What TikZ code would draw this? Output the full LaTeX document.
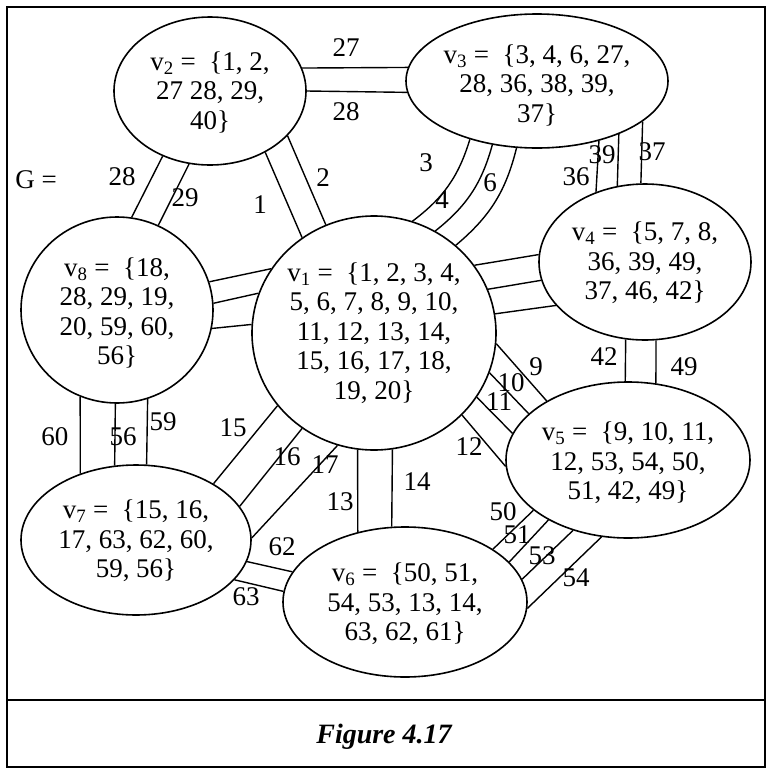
\documentclass[tikz,border=0pt]{standalone}
\usepackage{fontspec}
\setmainfont{Liberation Serif}
\usetikzlibrary{shapes.geometric}
\begin{document}
\begin{tikzpicture}[x=1pt,y=1pt,
  vert/.style={draw,ellipse,line width=1.6pt,inner sep=0pt},
  vtext/.style={font=\fontsize{27}{29.5}\selectfont,align=center,inner sep=0pt},
  elab/.style={font=\fontsize{27}{29.5}\selectfont,inner sep=0pt},
  edge/.style={line width=1.4pt},
  frameline/.style={line width=2.2pt}]
\useasboundingbox (0,0) rectangle (768,-769);
\draw[frameline] (7,-7) rectangle (765,-767);
\draw[frameline] (7,-700) -- (765,-700);
% vertices
\node[vert,minimum width=244pt,minimum height=234pt] (v1) at (374,-333) {};
\node[vert,minimum width=192pt,minimum height=148pt] (v2) at (210,-91) {};
\node[vert,minimum width=262pt,minimum height=134pt] (v3) at (537,-81) {};
\node[vert,minimum width=212pt,minimum height=156pt] (v4) at (645,-262) {};
\node[vert,minimum width=244pt,minimum height=156pt] (v5) at (628,-460) {};
\node[vert,minimum width=244pt,minimum height=150pt] (v6) at (405,-602) {};
\node[vert,minimum width=230pt,minimum height=150pt] (v7) at (136,-540) {};
\node[vert,minimum width=192pt,minimum height=186pt] (v8) at (117,-310) {};
% vertex texts
\node[vtext] (t1) at (374,-333) {v\textsubscript{1} = \ \{1, 2, 3, 4,\\5, 6, 7, 8, 9, 10,\\11, 12, 13, 14,\\15, 16, 17, 18,\\19, 20\}};
\node[vtext] (t2) at (210,-92) {v\textsubscript{2} = \ \{1, 2,\\27 28, 29,\\40\}};
\node[vtext] (t3) at (537,-85) {v\textsubscript{3} = \ \{3, 4, 6, 27,\\28, 36, 38, 39,\\37\}};
\node[vtext] (t4) at (645,-263) {v\textsubscript{4} = \ \{5, 7, 8,\\36, 39, 49,\\37, 46, 42\}};
\node[vtext] (t5) at (628,-463) {v\textsubscript{5} = \ \{9, 10, 11,\\12, 53, 54, 50,\\51, 42, 49\}};
\node[vtext] (t6) at (405,-604) {v\textsubscript{6} = \ \{50, 51,\\54, 53, 13, 14,\\63, 62, 61\}};
\node[vtext] (t7) at (136,-541) {v\textsubscript{7} = \ \{15, 16,\\17, 63, 62, 60,\\59, 56\}};
\node[vtext] (t8) at (117,-313) {v\textsubscript{8} = \ \{18,\\28, 29, 19,\\20, 59, 60,\\56\}};
% edges v2-v3
\draw[edge] (v2.14.2) -- (v3.174.2);
\draw[edge] (v2.0) -- (v3.-175.6);
% v2-v8
\draw[edge] (v2.-126.0) -- (v8.81.3);
\draw[edge] (v2.-106.3) -- (v8.64.0);
% v2-v1
\draw[edge] (v2.-48.3) -- (v1.127.7);
\draw[edge] (v2.-30.5) -- (v1.114.8);
% v3-v1 curved
\draw[edge] (v3.-139.9) to[bend left=18] (v1.71.1);
\draw[edge] (v3.-125.1) to[bend left=18] (v1.59.3);
\draw[edge] (v3.-107.4) to[bend left=18] (v1.47.7);
% v3-v4
\draw[edge] (v3.-44.5) -- (v4.125.4);
\draw[edge] (v3.-33.6) -- (v4.110.4);
\draw[edge] (v3.-21.9) -- (v4.93.7);
% v4-v1
\draw[edge] (v1.34.6) -- (v4.176.2);
\draw[edge] (v1.21.7) -- (v4.-170.2);
\draw[edge] (v1.9.0) -- (v4.-154.5);
% v8-v1
\draw[edge] (v8.17.9) -- (v1.148.7);
\draw[edge] (v8.4.2) -- (v1.161.6);
\draw[edge] (v8.-11.9) -- (v1.176.2);
% v8-v7
\draw[edge] (v8.-113.3) -- (v7.130.5);
\draw[edge] (v8.-91.8) -- (v7.106.6);
\draw[edge] (v8.-71.9) -- (v7.82.4);
% v1-v7
\draw[edge] (v1.-143.4) -- (v7.36.5);
\draw[edge] (v1.-127.2) -- (v7.18.6);
\draw[edge] (v1.-108.3) -- (v7.1.0);
% v1-v6
\draw[edge] (v1.-98.3) -- (v6.124.9);
\draw[edge] (v1.-81.7) -- (v6.100.6);
% v7-v6
\draw[edge] (v7.-11.6) -- (v6.165.6);
\draw[edge] (v7.-22.9) -- (v6.175.3);
% v1-v5
\draw[edge] (v1.-5.6) -- (v5.144.4);
\draw[edge] (v1.-19.0) -- (v5.155.8);
\draw[edge] (v1.-32.1) -- (v5.167.8);
\draw[edge] (v1.-43.3) -- (v5.-177.7);
% v4-v5
\draw[edge] (v4.-104.6) -- (v5.92.2);
\draw[edge] (v4.-82.7) -- (v5.70.5);
% v5-v6
\draw[edge] (v5.-152.7) -- (v6.31.4);
\draw[edge] (v5.-143.0) -- (v6.21.7);
\draw[edge] (v5.-128.8) -- (v6.11.1);
\draw[edge] (v5.-109.7) -- (v6.-3.8);
% labels
\node[elab] (g) at (36,-180) {G =};
\node[elab] (l27) at (346,-48) {27};
\node[elab] (l28a) at (346,-112) {28};
\node[elab] (l28b) at (122,-177) {28};
\node[elab] (l29) at (185,-198) {29};
\node[elab] (l1) at (260,-205) {1};
\node[elab] (l2) at (323,-178) {2};
\node[elab] (l3) at (426,-163) {3};
\node[elab] (l4) at (442,-200) {4};
\node[elab] (l6) at (490,-183) {6};
\node[elab] (l36) at (576,-177) {36};
\node[elab] (l39) at (602,-155) {39};
\node[elab] (l37) at (652,-152) {37};
\node[elab] (l60) at (55,-437) {60};
\node[elab] (l56) at (123,-437) {56};
\node[elab] (l59) at (163,-422) {59};
\node[elab] (l15) at (233,-428) {15};
\node[elab] (l16) at (287,-457) {16};
\node[elab] (l17) at (325,-465) {17};
\node[elab] (l13) at (340,-502) {13};
\node[elab] (l14) at (417,-482) {14};
\node[elab] (l62) at (282,-547) {62};
\node[elab] (l63) at (246,-597) {63};
\node[elab] (l9) at (536,-367) {9};
\node[elab] (l10) at (511,-383) {10};
\node[elab] (l11) at (499,-402) {11};
\node[elab] (l12) at (469,-447) {12};
\node[elab] (l42) at (604,-357) {42};
\node[elab] (l49) at (684,-367) {49};
\node[elab] (l50) at (503,-512) {50};
\node[elab] (l51) at (517,-535) {51};
\node[elab] (l53) at (542,-556) {53};
\node[elab] (l54) at (576,-578) {54};
\node[font=\fontsize{28}{30}\selectfont\bfseries\itshape,inner sep=0pt,anchor=base] (cap) at (384,-743) {Figure 4.17};
\end{tikzpicture}
\end{document}
